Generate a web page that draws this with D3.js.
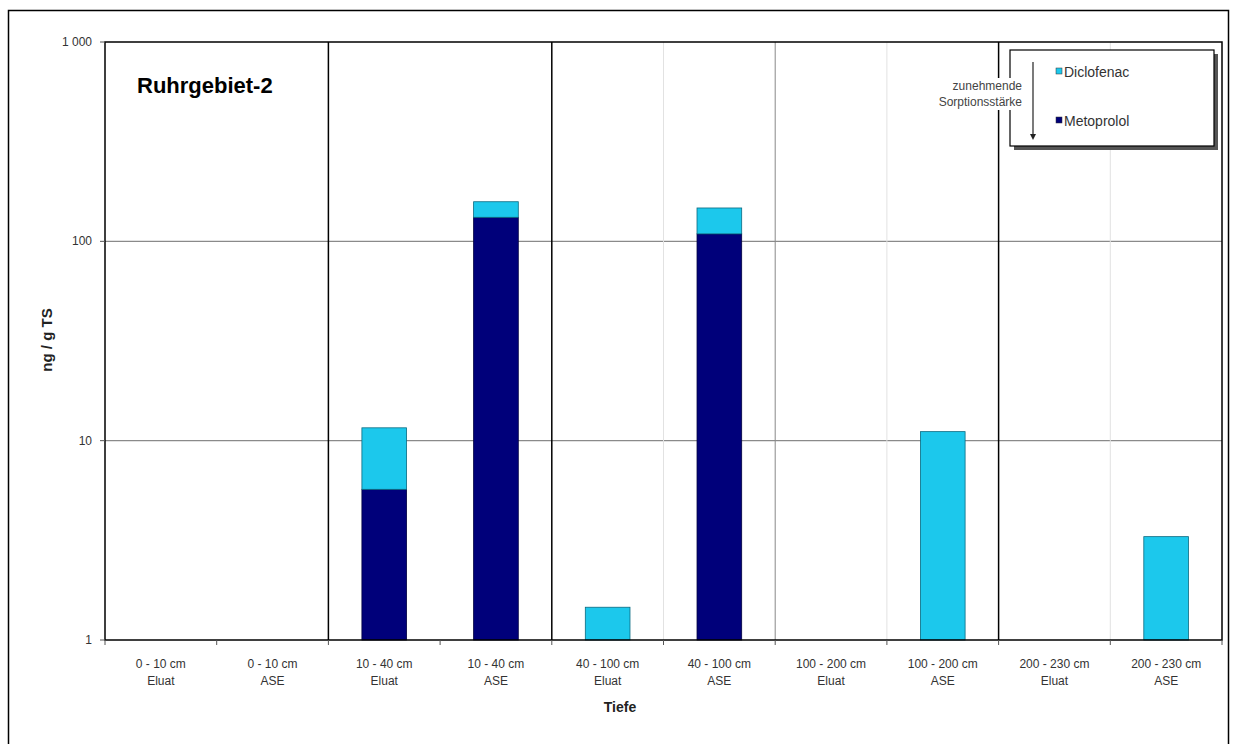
<!DOCTYPE html>
<html><head><meta charset="utf-8">
<script src="https://cdn.jsdelivr.net/npm/d3@7/dist/d3.min.js"></script>
<style>body{margin:0;background:#fff;} svg{display:block;font-family:Arial,"Liberation Sans",sans-serif;}</style>
</head><body>
<svg id="c" width="1233" height="744"></svg>
<script>
const depths = ["0 - 10 cm","0 - 10 cm","10 - 40 cm","10 - 40 cm","40 - 100 cm","40 - 100 cm","100 - 200 cm","100 - 200 cm","200 - 230 cm","200 - 230 cm"];
const methods = ["Eluat","ASE","Eluat","ASE","Eluat","ASE","Eluat","ASE","Eluat","ASE"];
const metoprolol = [0, 0, 5.7, 132, 0, 109, 0, 0, 0, 0];
const diclofenac = [0, 0, 5.9, 26, 1.46, 38, 0, 11.1, 0, 3.3];
const yTicks = [1, 10, 100, 1000];
const yTickLabels = ["1", "10", "100", "1 000"];

const svg = d3.select("#c");
const L = 105, R = 1222, T = 42, B = 640;
const idx = d3.range(depths.length);
const x = d3.scaleBand().domain(idx).range([L, R]).paddingInner(0.6).paddingOuter(0.3);
const xs = d3.scaleBand().domain(idx).range([L, R]);
const y = d3.scaleLog().domain([1, 1000]).range([B, T]);

// outer border
svg.append("rect").attr("x", 8.5).attr("y", 10.5).attr("width", 1220).attr("height", 760)
  .attr("fill", "none").attr("stroke", "#000").attr("stroke-width", 1.5);

// horizontal grid
svg.append("g").selectAll("line").data([10, 100]).join("line")
  .attr("x1", L).attr("x2", R).attr("y1", d => y(d)).attr("y2", d => y(d))
  .attr("stroke", "#8a8a8a").attr("stroke-width", 1.2);

// vertical separators
const seps = [2,4,5,6,7,8,9];
svg.append("g").selectAll("line").data(seps).join("line")
  .attr("x1", d => xs(d)).attr("x2", d => xs(d)).attr("y1", T).attr("y2", B)
  .attr("stroke", d => (d === 2 || d === 4 || d === 8) ? "#000" : (d === 6 ? "#888" : "#e2e2e2"))
  .attr("stroke-width", d => (d === 2 || d === 4 || d === 8) ? 1.5 : 1);

// stacked bars
const stackData = idx.map(i => ({i, m: metoprolol[i], d: diclofenac[i]}));
const bars = svg.append("g");
stackData.forEach(s => {
  const base = 1;
  const mTop = s.m > 0 ? s.m : base;
  if (s.m > 0) {
    bars.append("rect").attr("x", x(s.i)).attr("width", x.bandwidth())
      .attr("y", y(mTop)).attr("height", y(base) - y(mTop))
      .attr("fill", "#00007a").attr("stroke", "#000040").attr("stroke-width", 0.8);
  }
  if (s.d > 0) {
    const lo = s.m > 0 ? s.m : base;
    const hi = lo === base ? s.d : s.m + s.d;
    bars.append("rect").attr("x", x(s.i)).attr("width", x.bandwidth())
      .attr("y", y(hi)).attr("height", y(lo) - y(hi))
      .attr("fill", "#1cc8ec").attr("stroke", "#0a6a80").attr("stroke-width", 0.8);
  }
});

// plot frame
svg.append("rect").attr("x", L).attr("y", T).attr("width", R - L).attr("height", B - T)
  .attr("fill", "none").attr("stroke", "#000").attr("stroke-width", 1.5);

// y axis labels
svg.append("g").selectAll("text").data(yTicks).join("text")
  .attr("x", 92).attr("y", d => y(d) + 4).attr("text-anchor", "end")
  .attr("font-size", 12).attr("fill", "#333").text((d, i) => yTickLabels[i]);
svg.append("g").selectAll("line").data(yTicks).join("line")
  .attr("x1", L - 5).attr("x2", L).attr("y1", d => y(d)).attr("y2", d => y(d)).attr("stroke", "#555");

// x ticks
svg.append("g").selectAll("line").data(d3.range(0, 11)).join("line")
  .attr("x1", d => L + d * xs.step()).attr("x2", d => L + d * xs.step())
  .attr("y1", B).attr("y2", B + 5).attr("stroke", "#555");

// x labels
const xl = svg.append("g").attr("font-size", 12).attr("fill", "#333").attr("text-anchor", "middle");
idx.forEach(i => {
  const cx = xs(i) + xs.bandwidth() / 2;
  xl.append("text").attr("x", cx).attr("y", 668).text(depths[i]);
  xl.append("text").attr("x", cx).attr("y", 685).text(methods[i]);
});

// axis titles
svg.append("text").attr("x", 620).attr("y", 712).attr("text-anchor", "middle")
  .attr("font-size", 14).attr("font-weight", "bold").attr("fill", "#222").text("Tiefe");
svg.append("text").attr("transform", "translate(52,340) rotate(-90)").attr("text-anchor", "middle")
  .attr("font-size", 15).attr("font-weight", "bold").attr("fill", "#222").text("ng / g TS");

// chart title
svg.append("text").attr("x", 137).attr("y", 93).attr("font-size", 22).attr("font-weight", "bold")
  .attr("fill", "#000").text("Ruhrgebiet-2");

// legend
const lg = svg.append("g");
lg.append("rect").attr("x", 1014).attr("y", 54).attr("width", 204).attr("height", 96)
  .attr("fill", "#555");
lg.append("rect").attr("x", 1010).attr("y", 50).attr("width", 204).attr("height", 96)
  .attr("fill", "#fff").attr("stroke", "#000").attr("stroke-width", 1.2);
lg.append("rect").attr("x", 955).attr("y", 78).attr("width", 68).attr("height", 32).attr("fill", "#fff");
lg.append("text").attr("x", 1022).attr("y", 90).attr("text-anchor", "end").attr("font-size", 12)
  .attr("fill", "#444").text("zunehmende");
lg.append("text").attr("x", 1022).attr("y", 106).attr("text-anchor", "end").attr("font-size", 12)
  .attr("fill", "#444").text("Sorptionsstärke");
lg.append("line").attr("x1", 1033).attr("x2", 1033).attr("y1", 62).attr("y2", 136)
  .attr("stroke", "#222").attr("stroke-width", 1.2);
lg.append("path").attr("d", "M1030,134 L1036,134 L1033,140 Z").attr("fill", "#222");
const legendItems = [{name: "Diclofenac", color: "#1cc8ec", yy: 77}, {name: "Metoprolol", color: "#00007a", yy: 126}];
legendItems.forEach(it => {
  lg.append("rect").attr("x", 1056).attr("y", it.yy - 9).attr("width", 6).attr("height", 6)
    .attr("fill", it.color).attr("stroke", "#333").attr("stroke-width", 0.5);
  lg.append("text").attr("x", 1064).attr("y", it.yy).attr("font-size", 14).attr("fill", "#333").text(it.name);
});
</script>
</body></html>
